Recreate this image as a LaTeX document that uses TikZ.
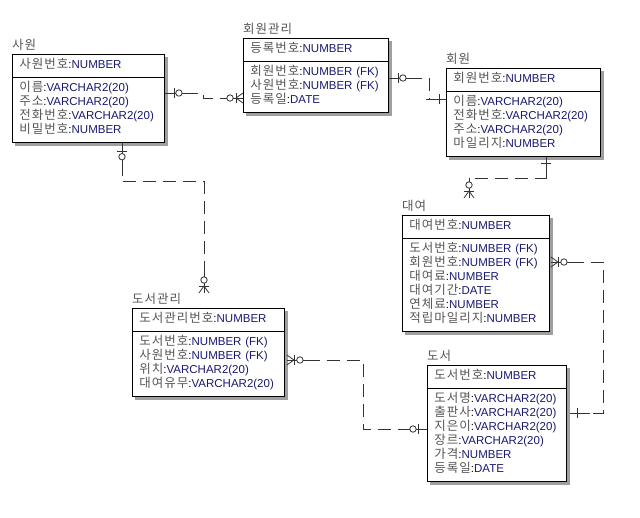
\documentclass[tikz,border=0pt]{standalone}
\usepackage{fontspec}
\setmainfont{Liberation Sans}
\newfontfamily\krfont[LetterSpace=8]{Noto Sans CJK KR}
\usetikzlibrary{shapes.multipart}

\definecolor{krgray}{RGB}{85,85,85}
\definecolor{typenavy}{RGB}{25,25,110}
\newcommand\fld[2]{\mbox{\strut\smash{\color{krgray}\fontsize{12.5}{14}\krfont #1}:{\color{typenavy}#2}}}

\tikzset{
  entity/.style={rectangle split, rectangle split parts=2, draw, line width=0.9pt,
    fill=white, anchor=north west, inner xsep=7pt, inner ysep=4pt, align=left,
    font=\fontsize{11.5}{14}\selectfont,
    preaction={draw=gray!75, fill=gray!75, line width=1pt,
      transform canvas={shift={(3.5pt,-3.5pt)}}}},
  etitle/.style={anchor=base west, inner sep=0pt, text=krgray,
    font=\fontsize{12.5}{14}\selectfont\krfont},
  rel/.style={draw=black!80, line width=0.8pt, dash pattern=on 13pt off 7pt},
  relmark/.style={draw=black!80, line width=0.8pt, solid},
  one/.pic={\draw (0,0) -- (20,0); \draw (7,-5) -- (7,5);},
  zeroone/.pic={\draw (0,0) -- (20,0); \draw (9,-5) -- (9,5);
    \draw[fill=white] (14,0) circle (3.2);},
  many/.pic={\draw (0,0) -- (20,0); \draw (0,-5) -- (7,0) -- (0,5);
    \draw (7,-5) -- (7,5); \draw[fill=white] (13,0) circle (3.2);}
}

\begin{document}
\begin{tikzpicture}[x=1pt, y=-1pt]
\useasboundingbox (0,0) rectangle (640,517);

% entities
\node[entity, text width=138pt] (emp) at (12,54)
  {\fld{사원번호}{NUMBER}
   \nodepart{two}
   \fld{이름}{VARCHAR2(20)}\\
   \fld{주소}{VARCHAR2(20)}\\
   \fld{전화번호}{VARCHAR2(20)}\\
   \fld{비밀번호}{NUMBER}};
\node[etitle] (emp-title) at ([yshift=5pt]emp.north west) {사원};

\node[entity, text width=131pt] (memmgr) at (243,38)
  {\fld{등록번호}{NUMBER}
   \nodepart{two}
   \fld{회원번호}{NUMBER (FK)}\\
   \fld{사원번호}{NUMBER (FK)}\\
   \fld{등록일}{DATE}};
\node[etitle] (memmgr-title) at ([yshift=5pt]memmgr.north west) {회원관리};

\node[entity, text width=140pt] (member) at (446,68)
  {\fld{회원번호}{NUMBER}
   \nodepart{two}
   \fld{이름}{VARCHAR2(20)}\\
   \fld{전화번호}{VARCHAR2(20)}\\
   \fld{주소}{VARCHAR2(20)}\\
   \fld{마일리지}{NUMBER}};
\node[etitle] (member-title) at ([yshift=5pt]member.north west) {회원};

\node[entity, text width=133pt] (rental) at (402,215)
  {\fld{대여번호}{NUMBER}
   \nodepart{two}
   \fld{도서번호}{NUMBER (FK)}\\
   \fld{회원번호}{NUMBER (FK)}\\
   \fld{대여료}{NUMBER}\\
   \fld{대여기간}{DATE}\\
   \fld{연체료}{NUMBER}\\
   \fld{적립마일리지}{NUMBER}};
\node[etitle] (rental-title) at ([yshift=5pt]rental.north west) {대여};

\node[entity, text width=138pt] (bookmgr) at (132,308)
  {\fld{도서관리번호}{NUMBER}
   \nodepart{two}
   \fld{도서번호}{NUMBER (FK)}\\
   \fld{사원번호}{NUMBER (FK)}\\
   \fld{위치}{VARCHAR2(20)}\\
   \fld{대여유무}{VARCHAR2(20)}};
\node[etitle] (bookmgr-title) at ([yshift=5pt]bookmgr.north west) {도서관리};

\node[entity, text width=125pt] (book) at (427,365)
  {\fld{도서번호}{NUMBER}
   \nodepart{two}
   \fld{도서명}{VARCHAR2(20)}\\
   \fld{출판사}{VARCHAR2(20)}\\
   \fld{지은이}{VARCHAR2(20)}\\
   \fld{장르}{VARCHAR2(20)}\\
   \fld{가격}{NUMBER}\\
   \fld{등록일}{DATE}};
\node[etitle] (book-title) at ([yshift=5pt]book.north west) {도서};

% relationships
\coordinate (r1a) at ([yshift=-39pt]emp.north east);
\coordinate (r1b) at ([yshift=-60pt]memmgr.north west);
\draw[rel] (r1a) -- ++(38,0) |- (r1b);
\pic[relmark] at (r1a) {zeroone};
\pic[relmark, rotate=180] at (r1b) {many};

\coordinate (r2a) at ([yshift=-40pt]memmgr.north east);
\coordinate (r2b) at ([yshift=-31pt]member.north west);
\draw[rel] (r2a) -- ++(40,0) |- (r2b);
\pic[relmark] at (r2a) {zeroone};
\pic[relmark, rotate=180] at (r2b) {one};

\coordinate (r3a) at ([xshift=-55pt]member.south east);
\coordinate (r3b) at ([xshift=67pt, yshift=17pt]rental.north west);
\draw[rel] (r3a) -- ++(0,22) -| (r3b);
\pic[relmark, rotate=-90] at (r3a) {one};
\pic[relmark, rotate=90] at (r3b) {many};

\coordinate (r4a) at ([xshift=1pt, yshift=-47pt]rental.north east);
\coordinate (r4b) at ([xshift=1pt, yshift=-48pt]book.north east);
\draw[rel] (r4a) -- ++(52,0) |- (r4b);
\pic[relmark] at (r4a) {many};
\pic[relmark, xshift=2pt] at (r4b) {one};

\coordinate (r5a) at ([xshift=2pt, yshift=-52pt]bookmgr.north east);
\coordinate (r5b) at ([yshift=-64pt]book.north west);
\draw[rel] (r5a) -- ++(76,0) |- (r5b);
\pic[relmark] at (r5a) {many};
\pic[relmark, rotate=180] at (r5b) {zeroone};

\coordinate (r6a) at ([xshift=110pt]emp.south west);
\coordinate (r6b) at ([xshift=72pt, yshift=15pt]bookmgr.north west);
\draw[rel] (r6a) -- ++(0,39) -| (r6b);
\pic[relmark, rotate=-90] at (r6a) {zeroone};
\pic[relmark, rotate=90] at (r6b) {many};

\end{tikzpicture}
\end{document}
